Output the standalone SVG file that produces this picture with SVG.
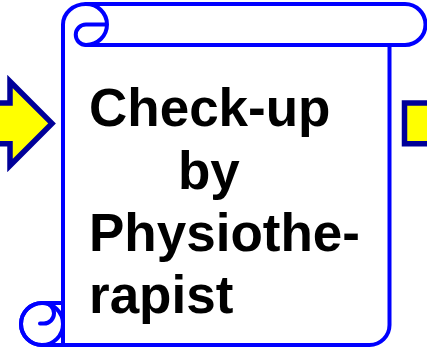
<svg xmlns="http://www.w3.org/2000/svg" width="427" height="348" viewBox="0 0 427 348">
<style>
.arrow{fill:#FFFF00;stroke:#000099;stroke-width:5.5;stroke-miterlimit:10}
.scroll{fill:#FFFFFF;stroke:#0000FF;stroke-width:4;stroke-linejoin:round}
.line{fill:none;stroke:#0000FF;stroke-width:4;stroke-linejoin:round;stroke-linecap:round}
.t{font-family:"Liberation Sans",Arial,sans-serif;font-weight:bold;font-size:53px;fill:#000000}
</style>
<g id="arrow-in">
<polygon class="arrow" points="-20,103 10,103 10,81.5 52,123.4 10,165.5 10,143.8 -20,143.8"/>
</g>
<g id="arrow-out">
<polygon class="arrow" points="404.5,103 440,103 440,81.5 482,123.4 440,165.5 440,143.8 404.5,143.8"/>
</g>
<g id="scroll">
<path class="scroll" d="M63,303 L63,24.5 A23,20.5 0 0 1 86,4 L405,4 A20.5,20.5 0 0 1 405,45 L389.5,45 L389.5,325 A20,20 0 0 1 369.5,345 L42,345 A21,21 0 0 1 21,324 A21,21 0 0 1 42,303 Z"/>
<path class="line" d="M86,4 A21,20.5 0 0 1 86,45 A10.25,10.25 0 0 1 86,24.5 L105,24.5"/>
<path class="line" d="M389.5,45 L86,45"/>
<circle class="line" cx="42" cy="324" r="21"/>
<path class="line" d="M42,303 L63,303 M63,303 L63,345 M44,303 A10,10.25 0 0 1 44,323.5 L40,323.5"/>
<text class="t" x="89" y="126">Check-up</text>
<text class="t" x="178" y="189">by</text>
<text class="t" x="89" y="251">Physiothe-</text>
<text class="t" x="89" y="313">rapist</text>
</g>
</svg>
